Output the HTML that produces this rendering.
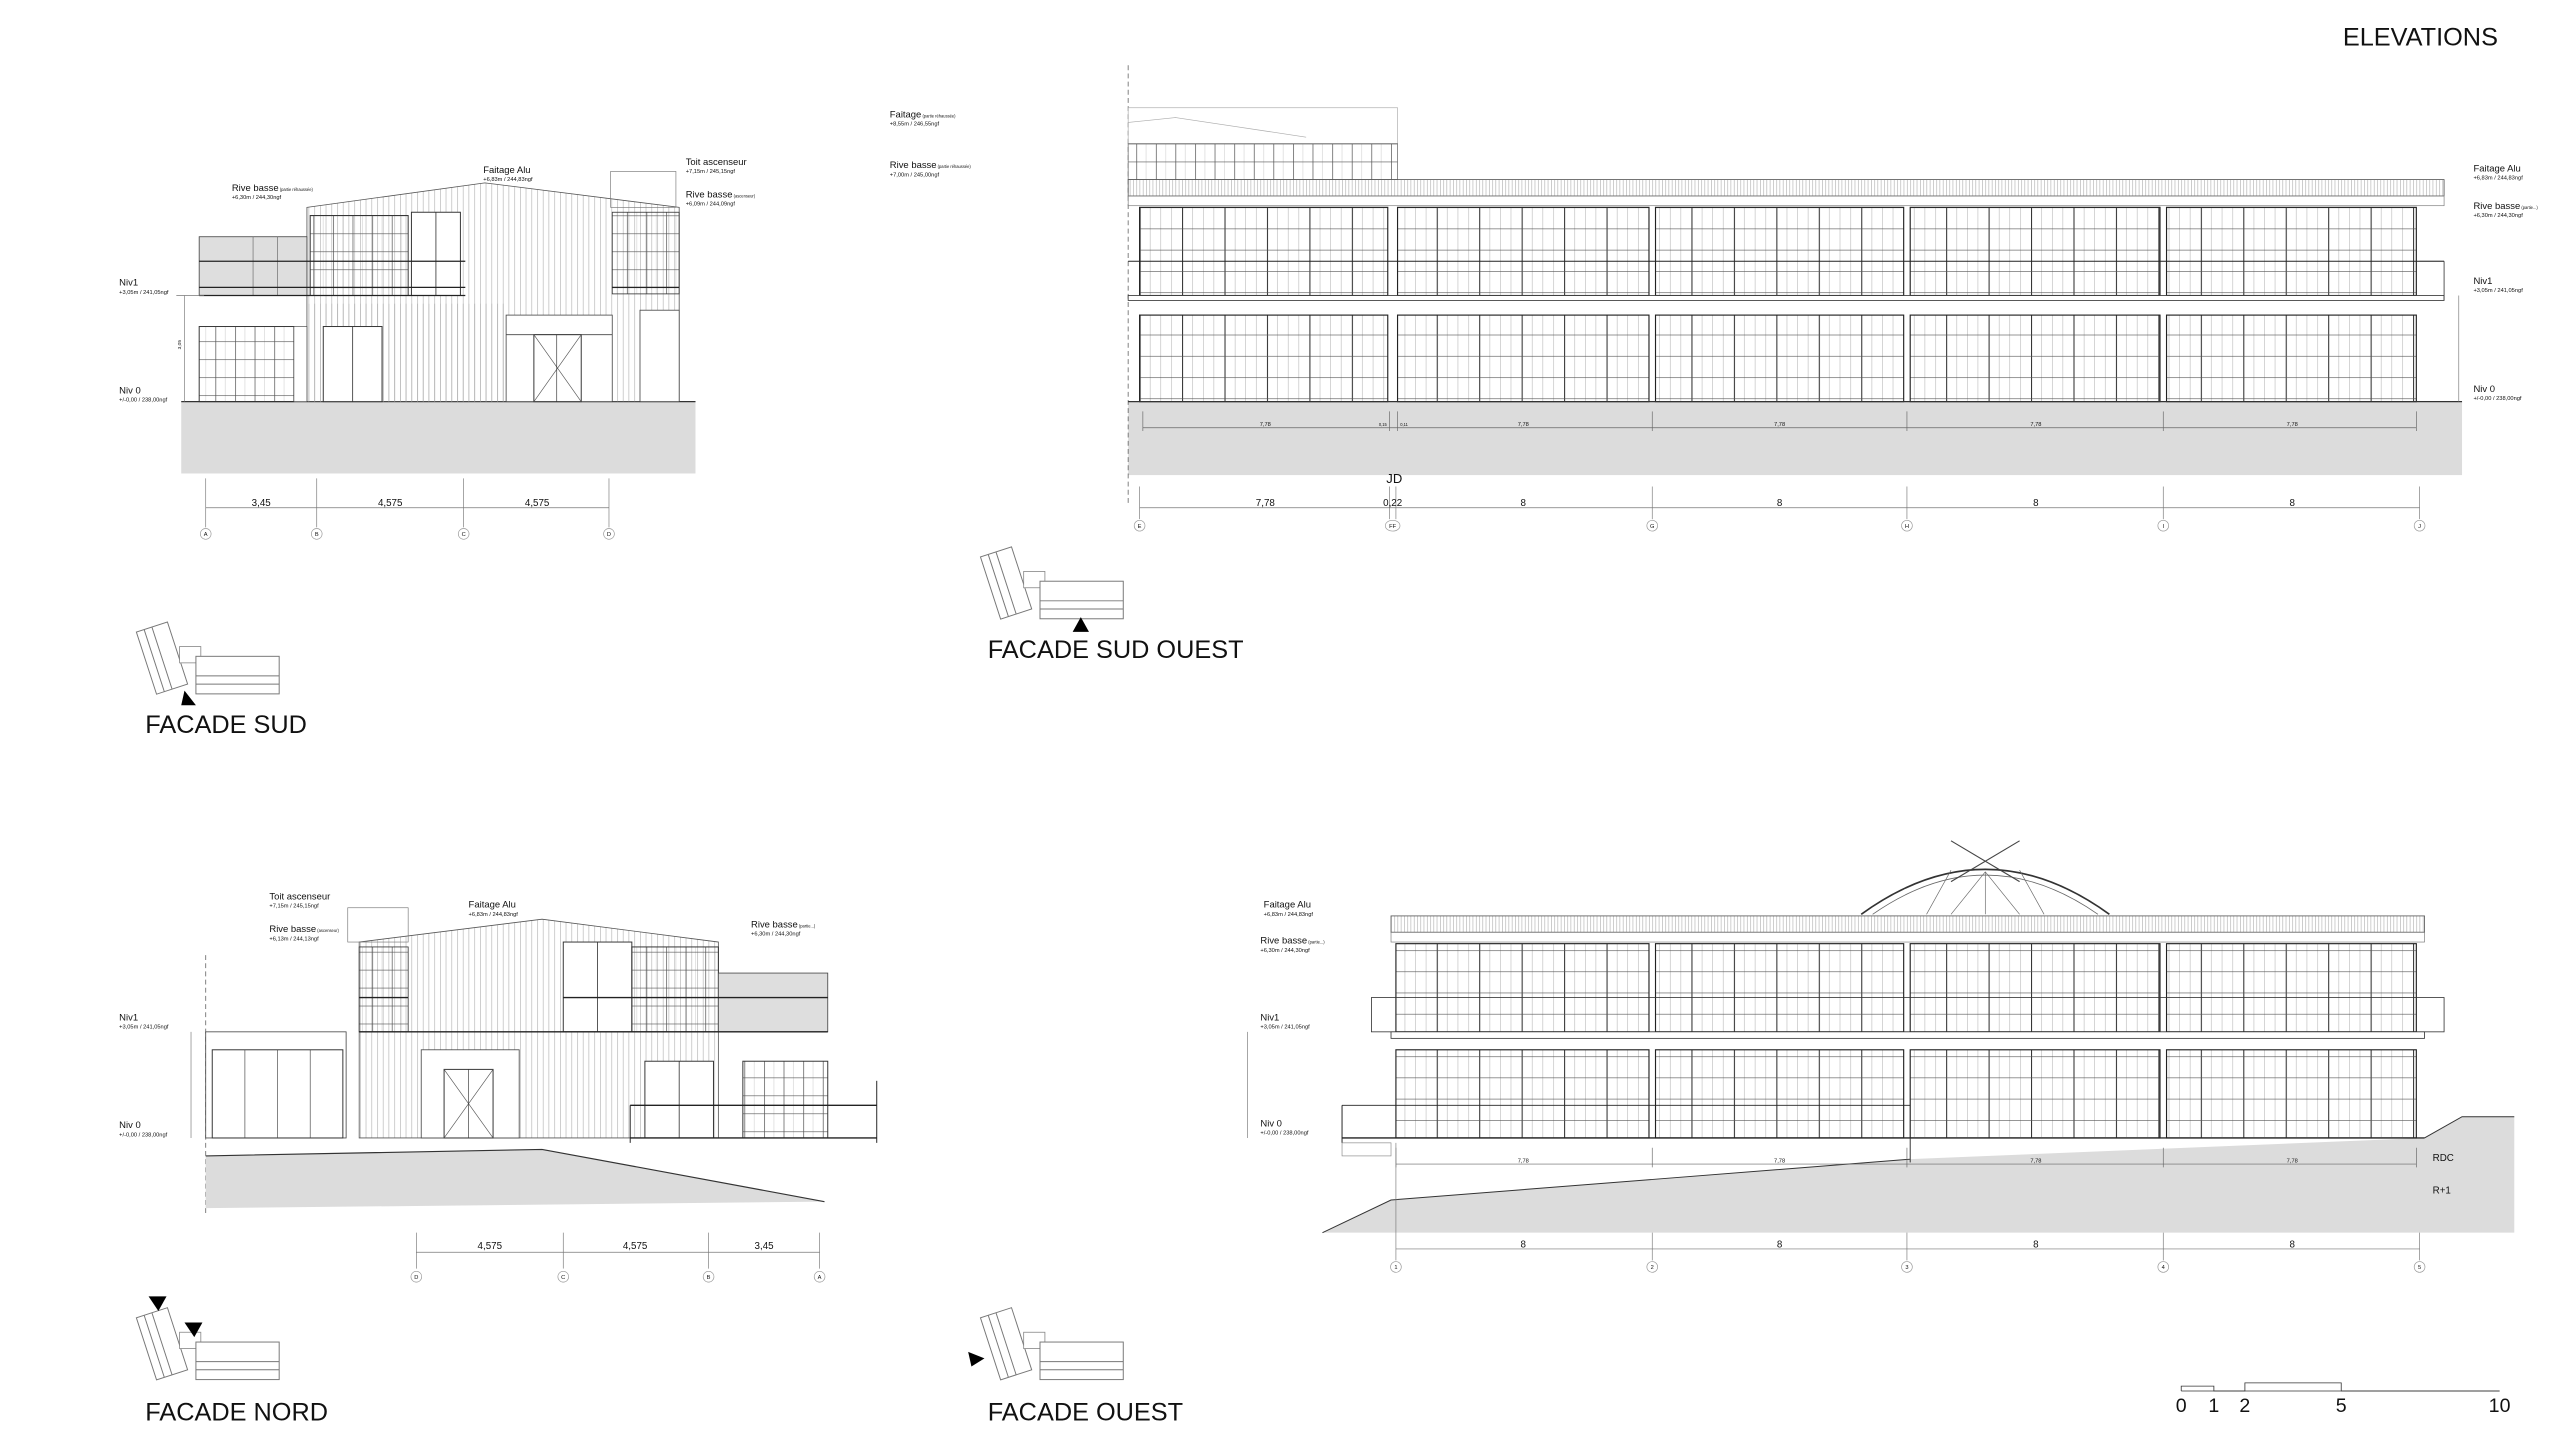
<!DOCTYPE html>
<html><head><meta charset="utf-8"><style>
html,body{margin:0;padding:0;background:#fff}
svg{display:block}
text{font-family:"Liberation Sans",sans-serif;fill:#111}
</style></head><body>
<svg width="2560" height="1440" viewBox="0 0 1568 882" xmlns="http://www.w3.org/2000/svg">
<defs>
<pattern id="sid" width="3.5" height="10" patternUnits="userSpaceOnUse"><line x1="0.2" y1="0" x2="0.2" y2="10" stroke="#aaa" stroke-width="0.35"/></pattern>
<pattern id="fine" width="2" height="10" patternUnits="userSpaceOnUse"><line x1="0.2" y1="0" x2="0.2" y2="10" stroke="#999" stroke-width="0.3"/></pattern>
<pattern id="cw" width="12" height="11" patternUnits="userSpaceOnUse"><line x1="0.2" y1="0" x2="0.2" y2="11" stroke="#444" stroke-width="0.4"/><line x1="6" y1="0" x2="6" y2="11" stroke="#aaa" stroke-width="0.2"/><line x1="0" y1="0.2" x2="12" y2="0.2" stroke="#555" stroke-width="0.4"/></pattern>
<pattern id="cw2" width="26" height="13" patternUnits="userSpaceOnUse" x="698" y="127"><line x1="0.3" y1="0" x2="0.3" y2="13" stroke="#333" stroke-width="0.7"/><line x1="6.5" y1="0" x2="6.5" y2="13" stroke="#999" stroke-width="0.25"/><line x1="13" y1="0" x2="13" y2="13" stroke="#999" stroke-width="0.25"/><line x1="19.5" y1="0" x2="19.5" y2="13" stroke="#999" stroke-width="0.25"/><line x1="0" y1="0.2" x2="26" y2="0.2" stroke="#555" stroke-width="0.4"/></pattern>
<g id="key">
  <g transform="rotate(-18 15 25)" fill="#fff" stroke="#777" stroke-width="0.6">
    <rect x="2" y="2" width="20" height="40"/><line x1="7" y1="2" x2="7" y2="42"/><line x1="12" y1="2" x2="12" y2="42"/>
  </g>
  <rect x="22" y="16" width="13" height="10" fill="#fff" stroke="#888" stroke-width="0.5"/>
  <rect x="32" y="22" width="51" height="23" fill="#fff" stroke="#777" stroke-width="0.6"/>
  <line x1="32" y1="34" x2="83" y2="34" stroke="#777" stroke-width="0.6"/><line x1="32" y1="39" x2="83" y2="39" stroke="#777" stroke-width="0.6"/>
</g>
</defs>
<rect width="1568" height="882" fill="#fff"/>

<text x="1435" y="28" font-size="15.5">ELEVATIONS</text>

<!-- ============ FACADE SUD ============ -->
<rect x="111" y="246" width="315" height="44" fill="#dcdcdc"/>
<line x1="111" y1="246" x2="426" y2="246" stroke="#333" stroke-width="0.8"/>
<polygon points="188,127 297,112 416,127 416,246 188,246" fill="url(#sid)" stroke="#555" stroke-width="0.5"/>
<rect x="188" y="186" width="122" height="60" fill="url(#sid)"/>
<rect x="122" y="145" width="66" height="36" fill="#dedede" stroke="#444" stroke-width="0.5"/>
<line x1="155" y1="145" x2="155" y2="181" stroke="#666" stroke-width="0.4"/><line x1="170" y1="145" x2="170" y2="181" stroke="#666" stroke-width="0.4"/>
<rect x="190" y="132" width="60" height="49" fill="url(#cw)" stroke="#333" stroke-width="0.6"/>
<rect x="252" y="130" width="30" height="51" fill="#fff" stroke="#333" stroke-width="0.6"/>
<line x1="267" y1="130" x2="267" y2="181" stroke="#333" stroke-width="0.5"/>
<line x1="122" y1="160" x2="285" y2="160" stroke="#222" stroke-width="0.8"/>
<line x1="122" y1="176" x2="285" y2="176" stroke="#222" stroke-width="0.8"/>
<line x1="122" y1="181" x2="285" y2="181" stroke="#222" stroke-width="0.8"/>
<rect x="122" y="200" width="58" height="46" fill="url(#cw)" stroke="#333" stroke-width="0.6"/>
<rect x="180" y="200" width="8" height="46" fill="#fff" stroke="#444" stroke-width="0.4"/>
<rect x="198" y="200" width="36" height="46" fill="#fff" stroke="#333" stroke-width="0.6"/>
<line x1="216" y1="200" x2="216" y2="246" stroke="#333" stroke-width="0.5"/>
<rect x="310" y="193" width="65" height="53" fill="#fff" stroke="#444" stroke-width="0.5"/>
<line x1="310" y1="205" x2="375" y2="205" stroke="#444" stroke-width="0.5"/>
<rect x="327" y="205" width="29" height="41" fill="#fff" stroke="#333" stroke-width="0.6"/>
<line x1="327" y1="205" x2="356" y2="246" stroke="#555" stroke-width="0.4"/><line x1="356" y1="205" x2="327" y2="246" stroke="#555" stroke-width="0.4"/>
<line x1="341" y1="205" x2="341" y2="246" stroke="#333" stroke-width="0.4"/>
<rect x="375" y="130" width="41" height="50" fill="url(#cw)" stroke="#333" stroke-width="0.5"/>
<line x1="375" y1="176" x2="416" y2="176" stroke="#222" stroke-width="0.8"/>
<rect x="374" y="105" width="40" height="22" fill="none" stroke="#777" stroke-width="0.4"/>
<rect x="392" y="190" width="24" height="56" fill="#fff" stroke="#444" stroke-width="0.5"/>
<line x1="113" y1="181" x2="113" y2="246" stroke="#777" stroke-width="0.4"/>
<line x1="108" y1="181" x2="125" y2="181" stroke="#777" stroke-width="0.4"/>
<text x="111" y="214" font-size="3" transform="rotate(-90 111 214)">3,05</text>
<text x="142" y="117" font-size="5.8">Rive basse<tspan font-size="2.5"> (partie réhaussée)</tspan></text>
<text x="142" y="122" font-size="3.5">+6,30m / 244,30ngf</text>
<text x="296" y="106" font-size="5.8">Faitage Alu</text>
<text x="296" y="111" font-size="3.5">+6,83m / 244,83ngf</text>
<text x="420" y="101" font-size="5.8">Toit ascenseur</text>
<text x="420" y="106" font-size="3.5">+7,15m / 245,15ngf</text>
<text x="420" y="121" font-size="5.8">Rive basse<tspan font-size="2.5"> (ascenseur)</tspan></text>
<text x="420" y="126" font-size="3.5">+6,09m / 244,09ngf</text>
<text x="73" y="175" font-size="5.8">Niv1</text>
<text x="73" y="180" font-size="3.5">+3,05m / 241,05ngf</text>
<text x="73" y="241" font-size="5.8">Niv 0</text>
<text x="73" y="246" font-size="3.5">+/-0,00 / 238,00ngf</text>
<g stroke="#777" stroke-width="0.4">
<line x1="126" y1="311" x2="373" y2="311"/>
<line x1="126" y1="293" x2="126" y2="323"/><line x1="194" y1="293" x2="194" y2="323"/><line x1="284" y1="293" x2="284" y2="323"/><line x1="373" y1="293" x2="373" y2="323"/>
</g>
<g font-size="6" text-anchor="middle"><text x="160" y="310">3,45</text><text x="239" y="310">4,575</text><text x="329" y="310">4,575</text></g>
<g fill="#fff" stroke="#999" stroke-width="0.4"><circle cx="126" cy="327" r="3.3"/><circle cx="194" cy="327" r="3.3"/><circle cx="284" cy="327" r="3.3"/><circle cx="373" cy="327" r="3.3"/></g>
<g font-size="3.5" text-anchor="middle"><text x="126" y="328.3">A</text><text x="194" y="328.3">B</text><text x="284" y="328.3">C</text><text x="373" y="328.3">D</text></g>
<use href="#key" x="88" y="380"/>
<polygon points="111,432 120,432 113,423" fill="#000"/>
<text x="89" y="449" font-size="15.5">FACADE SUD</text>

<!-- ============ FACADE SUD OUEST ============ -->
<rect x="691" y="246" width="817" height="45" fill="#dcdcdc"/>
<line x1="691" y1="40" x2="691" y2="310" stroke="#666" stroke-width="0.5" stroke-dasharray="3,2"/>
<rect x="691" y="66" width="165" height="22" fill="none" stroke="#aaa" stroke-width="0.4"/>
<polyline points="691,75 720,72 800,84" fill="none" stroke="#aaa" stroke-width="0.4"/>
<rect x="691" y="88" width="165" height="22" fill="url(#cw)" stroke="#777" stroke-width="0.5"/>
<rect x="691" y="110" width="806" height="10" fill="url(#fine)" stroke="#555" stroke-width="0.5"/>
<rect x="691" y="120" width="806" height="6" fill="none" stroke="#777" stroke-width="0.4"/>
<g fill="url(#cw2)" stroke="#222" stroke-width="0.7">
<rect x="698" y="127" width="152" height="54"/><rect x="856" y="127" width="154" height="54"/><rect x="1014" y="127" width="152" height="54"/><rect x="1170" y="127" width="153" height="54"/><rect x="1327" y="127" width="153" height="54"/>
<rect x="698" y="193" width="152" height="53"/><rect x="856" y="193" width="154" height="53"/><rect x="1014" y="193" width="152" height="53"/><rect x="1170" y="193" width="153" height="53"/><rect x="1327" y="193" width="153" height="53"/>
</g>
<line x1="691" y1="160" x2="1497" y2="160" stroke="#222" stroke-width="0.6"/>
<rect x="691" y="181" width="806" height="3" fill="#fff" stroke="#333" stroke-width="0.5"/>
<line x1="691" y1="246" x2="1508" y2="246" stroke="#333" stroke-width="0.8"/>
<line x1="1482" y1="160" x2="1497" y2="160" stroke="#333" stroke-width="0.5"/><line x1="1497" y1="160" x2="1497" y2="184" stroke="#333" stroke-width="0.5"/>
<g stroke="#666" stroke-width="0.4"><line x1="700" y1="262" x2="1480" y2="262"/>
<line x1="700" y1="252" x2="700" y2="264"/><line x1="851" y1="252" x2="851" y2="264"/><line x1="856" y1="252" x2="856" y2="264"/><line x1="1012" y1="252" x2="1012" y2="264"/><line x1="1168" y1="252" x2="1168" y2="264"/><line x1="1325" y1="252" x2="1325" y2="264"/><line x1="1480" y1="252" x2="1480" y2="264"/></g>
<g font-size="3.5" text-anchor="middle"><text x="775" y="261">7,78</text><text x="933" y="261">7,78</text><text x="1090" y="261">7,78</text><text x="1247" y="261">7,78</text><text x="1404" y="261">7,78</text><text x="847" y="261" font-size="2.5">0,15</text><text x="860" y="261" font-size="2.5">0,11</text></g>
<g stroke="#777" stroke-width="0.4"><line x1="698" y1="311" x2="1482" y2="311"/>
<line x1="698" y1="298" x2="698" y2="318"/><line x1="851" y1="298" x2="851" y2="318"/><line x1="855" y1="298" x2="855" y2="318"/><line x1="1012" y1="298" x2="1012" y2="318"/><line x1="1168" y1="298" x2="1168" y2="318"/><line x1="1325" y1="298" x2="1325" y2="318"/><line x1="1482" y1="298" x2="1482" y2="318"/></g>
<text x="854" y="296" font-size="8" text-anchor="middle">JD</text>
<g font-size="6" text-anchor="middle"><text x="775" y="310">7,78</text><text x="853" y="310">0,22</text><text x="933" y="310">8</text><text x="1090" y="310">8</text><text x="1247" y="310">8</text><text x="1404" y="310">8</text></g>
<g fill="#fff" stroke="#999" stroke-width="0.4"><circle cx="698" cy="322" r="3.3"/><ellipse cx="853" cy="322" rx="4.5" ry="3.3"/><circle cx="1012" cy="322" r="3.3"/><circle cx="1168" cy="322" r="3.3"/><circle cx="1325" cy="322" r="3.3"/><circle cx="1482" cy="322" r="3.3"/></g>
<g font-size="3.5" text-anchor="middle"><text x="698" y="323.3">E</text><text x="853" y="323.3">FF</text><text x="1012" y="323.3">G</text><text x="1168" y="323.3">H</text><text x="1325" y="323.3">I</text><text x="1482" y="323.3">J</text></g>
<text x="545" y="72" font-size="5.8">Faitage<tspan font-size="2.5"> (partie réhaussée)</tspan></text>
<text x="545" y="77" font-size="3.5">+8,55m / 246,55ngf</text>
<text x="545" y="103" font-size="5.8">Rive basse<tspan font-size="2.5"> (partie réhaussée)</tspan></text>
<text x="545" y="108" font-size="3.5">+7,00m / 245,00ngf</text>
<text x="1515" y="105" font-size="5.8">Faitage Alu</text>
<text x="1515" y="110" font-size="3.5">+6,83m / 244,83ngf</text>
<text x="1515" y="128" font-size="5.8">Rive basse<tspan font-size="2.5"> (partie...)</tspan></text>
<text x="1515" y="133" font-size="3.5">+6,30m / 244,30ngf</text>
<text x="1515" y="174" font-size="5.8">Niv1</text>
<text x="1515" y="179" font-size="3.5">+3,05m / 241,05ngf</text>
<text x="1515" y="240" font-size="5.8">Niv 0</text>
<text x="1515" y="245" font-size="3.5">+/-0,00 / 238,00ngf</text>
<line x1="1506" y1="181" x2="1506" y2="246" stroke="#777" stroke-width="0.4"/>
<use href="#key" x="605" y="334"/>
<polygon points="657,387 667,387 662,378" fill="#000"/>
<text x="605" y="403" font-size="15.5">FACADE SUD OUEST</text>

<!-- ============ FACADE NORD ============ -->
<line x1="126" y1="585" x2="126" y2="745" stroke="#666" stroke-width="0.5" stroke-dasharray="3,2"/>
<polygon points="126,708 332,704 505,736 126,740" fill="#dcdcdc"/>
<polyline points="126,708 332,704 505,736" fill="none" stroke="#333" stroke-width="0.7"/>
<polygon points="220,577 332,563 440,577 440,697 220,697" fill="url(#sid)" stroke="#555" stroke-width="0.5"/>
<rect x="126" y="632" width="86" height="65" fill="#fff" stroke="#444" stroke-width="0.5"/>
<rect x="130" y="643" width="80" height="54" fill="#fff" stroke="#333" stroke-width="0.6"/>
<line x1="150" y1="643" x2="150" y2="697" stroke="#444" stroke-width="0.4"/><line x1="170" y1="643" x2="170" y2="697" stroke="#444" stroke-width="0.4"/><line x1="190" y1="643" x2="190" y2="697" stroke="#444" stroke-width="0.4"/>
<rect x="213" y="556" width="37" height="21" fill="none" stroke="#777" stroke-width="0.4"/>
<rect x="220" y="580" width="30" height="52" fill="url(#cw)" stroke="#333" stroke-width="0.5"/>
<rect x="345" y="577" width="42" height="55" fill="#fff" stroke="#333" stroke-width="0.6"/>
<line x1="366" y1="577" x2="366" y2="632" stroke="#333" stroke-width="0.5"/>
<rect x="387" y="580" width="53" height="52" fill="url(#cw)" stroke="#333" stroke-width="0.6"/>
<rect x="440" y="596" width="67" height="36" fill="#dedede" stroke="#444" stroke-width="0.5"/>
<line x1="220" y1="611" x2="250" y2="611" stroke="#222" stroke-width="0.8"/>
<line x1="345" y1="611" x2="507" y2="611" stroke="#222" stroke-width="0.8"/>
<line x1="220" y1="632" x2="507" y2="632" stroke="#222" stroke-width="0.8"/>
<rect x="258" y="643" width="60" height="54" fill="#fff" stroke="#444" stroke-width="0.5"/>
<rect x="272" y="655" width="30" height="42" fill="#fff" stroke="#333" stroke-width="0.6"/>
<line x1="272" y1="655" x2="302" y2="697" stroke="#555" stroke-width="0.4"/><line x1="302" y1="655" x2="272" y2="697" stroke="#555" stroke-width="0.4"/><line x1="287" y1="655" x2="287" y2="697" stroke="#333" stroke-width="0.4"/>
<rect x="395" y="650" width="42" height="47" fill="#fff" stroke="#333" stroke-width="0.6"/>
<line x1="416" y1="650" x2="416" y2="697" stroke="#333" stroke-width="0.5"/>
<rect x="455" y="650" width="52" height="47" fill="url(#cw)" stroke="#333" stroke-width="0.6"/>
<line x1="386" y1="677" x2="537" y2="677" stroke="#222" stroke-width="0.8"/>
<line x1="386" y1="697" x2="537" y2="697" stroke="#222" stroke-width="0.8"/>
<line x1="386" y1="677" x2="386" y2="700" stroke="#222" stroke-width="0.6"/><line x1="537" y1="662" x2="537" y2="700" stroke="#222" stroke-width="0.6"/>
<line x1="117" y1="632" x2="117" y2="697" stroke="#777" stroke-width="0.4"/>
<text x="165" y="551" font-size="5.8">Toit ascenseur</text>
<text x="165" y="556" font-size="3.5">+7,15m / 245,15ngf</text>
<text x="165" y="571" font-size="5.8">Rive basse<tspan font-size="2.5"> (ascenseur)</tspan></text>
<text x="165" y="576" font-size="3.5">+6,13m / 244,13ngf</text>
<text x="287" y="556" font-size="5.8">Faitage Alu</text>
<text x="287" y="561" font-size="3.5">+6,83m / 244,83ngf</text>
<text x="460" y="568" font-size="5.8">Rive basse<tspan font-size="2.5"> (partie...)</tspan></text>
<text x="460" y="573" font-size="3.5">+6,30m / 244,30ngf</text>
<text x="73" y="625" font-size="5.8">Niv1</text>
<text x="73" y="630" font-size="3.5">+3,05m / 241,05ngf</text>
<text x="73" y="691" font-size="5.8">Niv 0</text>
<text x="73" y="696" font-size="3.5">+/-0,00 / 238,00ngf</text>
<g stroke="#777" stroke-width="0.4"><line x1="255" y1="767" x2="502" y2="767"/>
<line x1="255" y1="755" x2="255" y2="777"/><line x1="345" y1="755" x2="345" y2="777"/><line x1="434" y1="755" x2="434" y2="777"/><line x1="502" y1="755" x2="502" y2="777"/></g>
<g font-size="6" text-anchor="middle"><text x="300" y="765">4,575</text><text x="389" y="765">4,575</text><text x="468" y="765">3,45</text></g>
<g fill="#fff" stroke="#999" stroke-width="0.4"><circle cx="255" cy="782" r="3.3"/><circle cx="345" cy="782" r="3.3"/><circle cx="434" cy="782" r="3.3"/><circle cx="502" cy="782" r="3.3"/></g>
<g font-size="3.5" text-anchor="middle"><text x="255" y="783.3">D</text><text x="345" y="783.3">C</text><text x="434" y="783.3">B</text><text x="502" y="783.3">A</text></g>
<use href="#key" x="88" y="800"/>
<polygon points="91,794 102,794 97,803" fill="#000"/>
<polygon points="113,810 124,810 119,819" fill="#000"/>
<text x="89" y="870" font-size="15.5">FACADE NORD</text>

<!-- ============ FACADE OUEST ============ -->
<polygon points="810,755 852,735 1170,710 1485,697 1508,684 1540,684 1540,755" fill="#dcdcdc"/>
<polyline points="810,755 852,735 1170,710" fill="none" stroke="#333" stroke-width="0.6"/>
<line x1="1170" y1="697" x2="1485" y2="697" stroke="#333" stroke-width="0.8"/>
<polyline points="1485,697 1508,684 1540,684" fill="none" stroke="#333" stroke-width="0.6"/>
<line x1="1170" y1="697" x2="1170" y2="712" stroke="#333" stroke-width="0.6"/>
<path d="M1140,560 Q1216,505 1292,560" fill="none" stroke="#333" stroke-width="1"/>
<path d="M1147,560 Q1216,512 1285,560" fill="none" stroke="#666" stroke-width="0.5"/>
<g stroke="#666" stroke-width="0.4"><line x1="1216" y1="534" x2="1216" y2="560"/><line x1="1216" y1="534" x2="1195" y2="560"/><line x1="1216" y1="534" x2="1237" y2="560"/><line x1="1195" y1="533" x2="1180" y2="560"/><line x1="1237" y1="533" x2="1252" y2="560"/></g>
<line x1="1195" y1="515" x2="1237" y2="540" stroke="#444" stroke-width="0.7"/><line x1="1237" y1="515" x2="1195" y2="540" stroke="#444" stroke-width="0.7"/>
<rect x="852" y="561" width="633" height="10" fill="url(#fine)" stroke="#555" stroke-width="0.5"/>
<rect x="852" y="571" width="633" height="6" fill="none" stroke="#777" stroke-width="0.4"/>
<g fill="url(#cw2)" stroke="#222" stroke-width="0.7">
<rect x="855" y="578" width="155" height="54"/><rect x="1014" y="578" width="152" height="54"/><rect x="1170" y="578" width="153" height="54"/><rect x="1327" y="578" width="153" height="54"/>
<rect x="855" y="643" width="155" height="54"/><rect x="1014" y="643" width="152" height="54"/><rect x="1170" y="643" width="153" height="54"/><rect x="1327" y="643" width="153" height="54"/>
</g>
<rect x="840" y="611" width="657" height="21" fill="none" stroke="#333" stroke-width="0.5"/>
<rect x="852" y="632" width="633" height="4" fill="#fff" stroke="#333" stroke-width="0.5"/>
<line x1="822" y1="677" x2="1170" y2="677" stroke="#222" stroke-width="0.6"/>
<line x1="822" y1="697" x2="1170" y2="697" stroke="#222" stroke-width="0.8"/>
<line x1="822" y1="677" x2="822" y2="700" stroke="#222" stroke-width="0.6"/>
<rect x="822" y="700" width="30" height="8" fill="none" stroke="#888" stroke-width="0.4"/>
<line x1="764" y1="632" x2="764" y2="697" stroke="#777" stroke-width="0.4"/>
<g stroke="#666" stroke-width="0.4"><line x1="855" y1="713" x2="1480" y2="713"/>
<line x1="855" y1="703" x2="855" y2="715"/><line x1="1012" y1="703" x2="1012" y2="715"/><line x1="1168" y1="703" x2="1168" y2="715"/><line x1="1325" y1="703" x2="1325" y2="715"/><line x1="1480" y1="703" x2="1480" y2="715"/></g>
<g font-size="3.5" text-anchor="middle"><text x="933" y="712">7,78</text><text x="1090" y="712">7,78</text><text x="1247" y="712">7,78</text><text x="1404" y="712">7,78</text></g>
<text x="1490" y="711" font-size="6">RDC</text>
<text x="1490" y="731" font-size="6">R+1</text>
<text x="774" y="556" font-size="5.8">Faitage Alu</text>
<text x="774" y="561" font-size="3.5">+6,83m / 244,83ngf</text>
<text x="772" y="578" font-size="5.8">Rive basse<tspan font-size="2.5"> (partie...)</tspan></text>
<text x="772" y="583" font-size="3.5">+6,30m / 244,30ngf</text>
<text x="772" y="625" font-size="5.8">Niv1</text>
<text x="772" y="630" font-size="3.5">+3,05m / 241,05ngf</text>
<text x="772" y="690" font-size="5.8">Niv 0</text>
<text x="772" y="695" font-size="3.5">+/-0,00 / 238,00ngf</text>
<g stroke="#777" stroke-width="0.4"><line x1="855" y1="765" x2="1482" y2="765"/>
<line x1="855" y1="700" x2="855" y2="772"/><line x1="1012" y1="755" x2="1012" y2="772"/><line x1="1168" y1="755" x2="1168" y2="772"/><line x1="1325" y1="755" x2="1325" y2="772"/><line x1="1482" y1="755" x2="1482" y2="772"/></g>
<g font-size="6" text-anchor="middle"><text x="933" y="764">8</text><text x="1090" y="764">8</text><text x="1247" y="764">8</text><text x="1404" y="764">8</text></g>
<g fill="#fff" stroke="#999" stroke-width="0.4"><circle cx="855" cy="776" r="3.3"/><circle cx="1012" cy="776" r="3.3"/><circle cx="1168" cy="776" r="3.3"/><circle cx="1325" cy="776" r="3.3"/><circle cx="1482" cy="776" r="3.3"/></g>
<g font-size="3.5" text-anchor="middle"><text x="855" y="777.3">1</text><text x="1012" y="777.3">2</text><text x="1168" y="777.3">3</text><text x="1325" y="777.3">4</text><text x="1482" y="777.3">5</text></g>
<use href="#key" x="605" y="800"/>
<polygon points="593,828 603,832 595,837" fill="#000"/>
<text x="605" y="870" font-size="15.5">FACADE OUEST</text>

<!-- scale bar -->
<g stroke="#333" stroke-width="0.5" fill="none">
<polyline points="1336,852 1336,849 1356,849 1356,852 1375,852 1375,847 1434,847 1434,852 1531,852"/>
<line x1="1336" y1="852" x2="1531" y2="852"/>
</g>
<g font-size="12" text-anchor="middle"><text x="1336" y="865">0</text><text x="1356" y="865">1</text><text x="1375" y="865">2</text><text x="1434" y="865">5</text><text x="1531" y="865">10</text></g>
</svg>
</body></html>
